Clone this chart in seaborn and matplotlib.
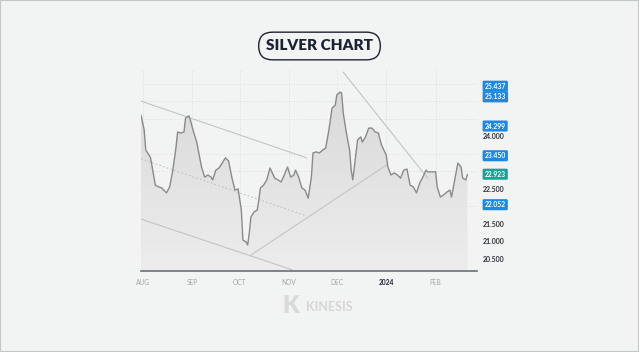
import numpy as np
import pandas as pd
import matplotlib
matplotlib.use("Agg")
import matplotlib.pyplot as plt
import matplotlib.dates as mdates
from matplotlib.patches import Rectangle
from matplotlib.ticker import MultipleLocator
import seaborn as sns

# ---- data ----
dates = [
    "2023-07-31", "2023-08-02", "2023-08-03", "2023-08-05", "2023-08-06", "2023-08-09",
    "2023-08-11", "2023-08-13", "2023-08-16", "2023-08-18", "2023-08-20", "2023-08-22",
    "2023-08-23", "2023-08-25", "2023-08-27", "2023-08-28", "2023-08-30", "2023-08-31",
    "2023-09-02", "2023-09-04", "2023-09-07", "2023-09-09", "2023-09-11", "2023-09-13",
    "2023-09-14", "2023-09-16", "2023-09-18", "2023-09-20", "2023-09-22", "2023-09-24",
    "2023-09-26", "2023-09-28", "2023-09-30", "2023-10-02", "2023-10-03", "2023-10-05",
    "2023-10-06", "2023-10-07", "2023-10-08", "2023-10-10", "2023-10-12", "2023-10-13",
    "2023-10-14", "2023-10-16", "2023-10-18", "2023-10-20", "2023-10-23", "2023-10-25",
    "2023-10-27", "2023-10-29", "2023-10-31", "2023-11-02", "2023-11-04", "2023-11-05",
    "2023-11-07", "2023-11-09", "2023-11-11", "2023-11-13", "2023-11-15", "2023-11-16",
    "2023-11-18", "2023-11-20", "2023-11-22", "2023-11-24", "2023-11-26", "2023-11-28",
    "2023-11-30", "2023-12-01", "2023-12-03", "2023-12-04", "2023-12-05", "2023-12-07",
    "2023-12-09", "2023-12-10", "2023-12-11", "2023-12-12", "2023-12-14", "2023-12-16",
    "2023-12-17", "2023-12-19", "2023-12-21", "2023-12-23", "2023-12-25", "2023-12-27",
    "2023-12-29", "2024-01-01", "2024-01-02", "2024-01-04", "2024-01-06", "2024-01-08",
    "2024-01-10", "2024-01-12", "2024-01-14", "2024-01-16", "2024-01-18", "2024-01-20",
    "2024-01-22", "2024-01-24", "2024-01-26", "2024-01-27", "2024-01-29", "2024-02-01",
    "2024-02-02", "2024-02-04", "2024-02-06", "2024-02-08", "2024-02-10", "2024-02-11",
    "2024-02-13", "2024-02-15", "2024-02-17", "2024-02-18", "2024-02-20", "2024-02-21",
]
prices = [
    24.61, 24.19, 23.61, 23.47, 23.39, 22.61,
    22.56, 22.53, 22.39, 22.56, 23.04, 23.70,
    24.13, 24.10, 24.13, 24.53, 24.59, 24.47,
    24.13, 23.84, 23.13, 22.84, 22.90, 22.84,
    22.76, 23.04, 23.10, 23.24, 23.39, 23.30,
    22.84, 22.47, 22.50, 21.90, 21.04, 20.99,
    20.90, 21.24, 21.70, 21.84, 21.90, 22.19,
    22.53, 22.61, 22.76, 23.10, 22.81, 22.76,
    22.70, 22.90, 23.13, 22.84, 22.90, 23.04,
    22.84, 22.53, 22.47, 22.24, 22.84, 23.53,
    23.56, 23.53, 23.61, 23.67, 24.19, 24.81,
    24.90, 25.19, 25.27, 25.24, 24.67, 24.10,
    23.61, 23.04, 22.76, 23.13, 23.90, 23.99,
    23.84, 23.99, 24.24, 24.24, 24.13, 24.10,
    23.76, 23.47, 23.13, 22.90, 22.96, 22.90,
    22.81, 23.04, 23.07, 22.61, 22.56, 22.39,
    22.67, 22.84, 23.04, 22.99, 22.99, 22.99,
    22.56, 22.27, 22.33, 22.41, 22.47, 22.27,
    22.76, 23.24, 23.13, 22.81, 22.76, 22.92,
]

# drawn trend / channel lines
trend_start_dates = ["2023-07-31", "2023-07-31", "2023-07-31", "2023-10-08", "2023-12-05"]
trend_start_vals = [25.01, 23.36, 21.64, 20.61, 25.84]
trend_end_dates = ["2023-11-12", "2023-11-12", "2023-11-03", "2024-01-02", "2024-01-27"]
trend_end_vals = [23.39, 21.73, 20.19, 23.21, 22.81]
trend_dashed = [False, True, False, False, False]

month_ticks = ["2023-08-01", "2023-09-01", "2023-10-01", "2023-11-01",
               "2023-12-01", "2024-01-01", "2024-02-01"]
month_labels = ["AUG", "SEP", "OCT", "NOV", "DEC", "2024", "FEB"]

y_ticks = [20.5, 21.0, 21.5, 22.5, 24.0]
tag_levels = [25.437, 25.133, 24.299, 23.450, 22.923, 22.052]
tag_colors = ["#1e88e5", "#1e88e5", "#1e88e5", "#1e88e5", "#1aa394", "#1e88e5"]

# ---- style ----
bg = "#f2f3f3"
sns.set_theme(style="white")
plt.rcParams["font.family"] = ["Lato", "DejaVu Sans"]

df = pd.DataFrame({"date": pd.to_datetime(dates), "price": prices})
y_bottom, y_top = 20.157, 25.9

fig = plt.figure(figsize=(6.39, 3.52), dpi=100, facecolor=bg)
ax = fig.add_axes([141 / 639, 81 / 352, 336 / 639, 201 / 352])
ax.set_facecolor(bg)

# gradient fill under the price line
poly = ax.fill_between(df["date"], df["price"], y_bottom, facecolor="none", edgecolor="none")
x0 = mdates.date2num(df["date"].iloc[0])
x1 = mdates.date2num(df["date"].iloc[-1])
grad = np.linspace(1, 0, 256).reshape(-1, 1)
cmap = matplotlib.colors.LinearSegmentedColormap.from_list("g", ["#ededed", "#d9d9d9"])
img = ax.imshow(grad, cmap=cmap, aspect="auto", extent=[x0, x1, y_bottom, 25.3],
                origin="upper", zorder=1)
img.set_clip_path(poly.get_paths()[0], transform=ax.transData)

sns.lineplot(data=df, x="date", y="price", ax=ax, color="#8a8a8a", lw=1.0, zorder=3,
             solid_joinstyle="round", solid_capstyle="round")

for sd, sv, ed, ev, dashed in zip(trend_start_dates, trend_start_vals,
                                  trend_end_dates, trend_end_vals, trend_dashed):
    ax.plot([pd.Timestamp(sd), pd.Timestamp(ed)], [sv, ev], color="#c4c4c4",
            lw=0.8, ls=(0, (1.5, 2)) if dashed else "-", zorder=2)

ax.set_xlim(pd.Timestamp("2023-07-31"), pd.Timestamp("2024-02-27"))
ax.set_ylim(y_bottom, y_top)

# axes, ticks, grid
ax.set_xticks(pd.to_datetime(month_ticks))
ax.set_xticklabels(month_labels)
ax.set_yticks(y_ticks)
ax.set_yticklabels([f"{v:.3f}" for v in y_ticks])
ax.yaxis.set_minor_locator(MultipleLocator(0.5))
ax.yaxis.tick_right()
ax.tick_params(axis="y", which="both", length=0, pad=4.5, labelsize=5,
               labelcolor="#2b2f36")
ax.tick_params(axis="x", length=0, pad=6, labelsize=4.8, labelcolor="#a3a6aa")
for lab in ax.get_yticklabels():
    lab.set_fontweight("bold")
for lab in ax.get_xticklabels():
    if lab.get_text() == "2024":
        lab.set_color("#1c2230")
        lab.set_fontweight("bold")

ax.grid(False)
ax.xaxis.grid(True, color="#d8d8d8", ls=(0, (1, 2)), lw=0.6)
ax.yaxis.grid(True, which="minor", color="#d8d8d8", ls=(0, (1, 2)), lw=0.6)
ax.set_axisbelow(True)
for side in ["top", "left", "right"]:
    ax.spines[side].set_visible(False)
ax.spines["bottom"].set_color("#6b7075")
ax.spines["bottom"].set_linewidth(1.2)
ax.set_xlabel("")
ax.set_ylabel("")

# price tags on the right
for level, color in zip(tag_levels, tag_colors):
    ax.annotate(f"{level:.3f}", xy=(1, level), xycoords=("axes fraction", "data"),
                xytext=(5.5, 0), textcoords="offset points", ha="left", va="center",
                fontsize=4.9, color="white", fontweight="bold", annotation_clip=False,
                bbox=dict(boxstyle="round,pad=0.3,rounding_size=0.2", fc=color, ec="none"))

# title badge
fig.text(0.5, 1 - 46 / 352, "SILVER CHART", ha="center", va="center", fontsize=11,
         fontweight="heavy", color="#1c2230",
         bbox=dict(boxstyle="round,pad=0.48,rounding_size=0.9", fc=bg, ec="#1c2230", lw=1.0))

# watermark
fig.text(291 / 639, 1 - 306 / 352, "K", ha="center", va="center", fontsize=17,
         fontweight="heavy", color="#dadada")
fig.text(306 / 639, 1 - 307 / 352, "KINESIS", ha="left", va="center", fontsize=9,
         fontweight="bold", color="#d6d6d6")

# thin frame around the image
fig.patches.append(Rectangle((0, 0), 1, 1, transform=fig.transFigure, fill=False,
                             ec="#c6c6c6", lw=1.5))

fig.savefig("out.png", dpi=100, facecolor=bg)
